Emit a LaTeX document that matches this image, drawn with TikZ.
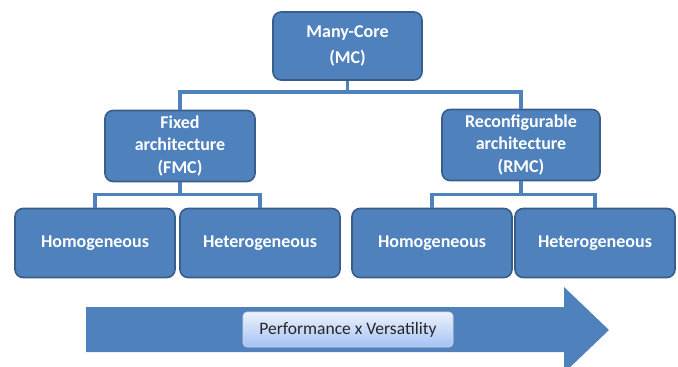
\documentclass[tikz,border=0pt]{standalone}
\usepackage{fontspec}
\setmainfont{Carlito}
\usepackage{tikz}
\usetikzlibrary{calc}

\definecolor{boxblue}{RGB}{79,129,189}
\definecolor{boxedge}{RGB}{56,93,138}
\definecolor{labtop}{RGB}{236,242,252}
\definecolor{labbot}{RGB}{164,194,244}

\tikzset{
	mcbox/.style={draw=boxedge, line width=1.6pt, fill=boxblue, rounded corners=8pt,
		text=white, align=center, font=\bfseries\fontsize{18}{22.5}\selectfont, inner sep=2pt},
	bus/.style={draw=boxblue, line width=3.5pt},
}

\begin{document}
\begin{tikzpicture}[x=1pt,y=-1pt]
	\useasboundingbox (0,0) rectangle (678,367);

	%top
	\node[mcbox, minimum width=149, minimum height=68, font=\bfseries\fontsize{18}{26}\selectfont] (mc) at (347.5,46) {Many-Core\\(MC)};

	%middle row
	\node[mcbox, minimum width=150, minimum height=71] (fmc) at (180,146) {Fixed\\architecture\\(FMC)};
	\node[mcbox, minimum width=158, minimum height=71] (rmc) at (521,145) {Reconfigurable\\architecture\\(RMC)};

	%bottom row
	\node[mcbox, minimum width=160, minimum height=69] (homF) at (95,243) {Homogeneous};
	\node[mcbox, minimum width=160, minimum height=69] (hetF) at (260,243) {Heterogeneous};
	\node[mcbox, minimum width=160, minimum height=69] (homR) at (432,243) {Homogeneous};
	\node[mcbox, minimum width=160, minimum height=69] (hetR) at (595,243) {Heterogeneous};

	%buses
	\coordinate (busMC) at ($(mc.south)+(0,11)$);
	\coordinate (busF) at ($(fmc.south)+(0,12)$);
	\coordinate (busR) at ($(rmc.south)+(0,13)$);
	\draw[bus] (mc.south) -- (busMC);
	\draw[bus] (fmc.north) |- (busMC) -| (rmc.north);
	\draw[bus] (fmc.south) -- (busF);
	\draw[bus] (homF.north) |- (busF) -| (hetF.north);
	\draw[bus] (rmc.south) -- (busR);
	\draw[bus] (homR.north) |- (busR) -| (hetR.north);

	%big arrow
	\fill[boxblue] (86,307) -- (564,307) -- (564,287) -- (609,330)
		-- (564,373) -- (564,352) -- (86,352) -- cycle;
	\node[draw=labbot!60!black!30, line width=0.6pt, rounded corners=4pt,
		top color=labtop, bottom color=labbot, minimum width=210, minimum height=35,
		text=black!85, font=\fontsize{17.5}{20}\selectfont] (perf) at (348,329.5) {Performance x Versatility};
\end{tikzpicture}
\end{document}
